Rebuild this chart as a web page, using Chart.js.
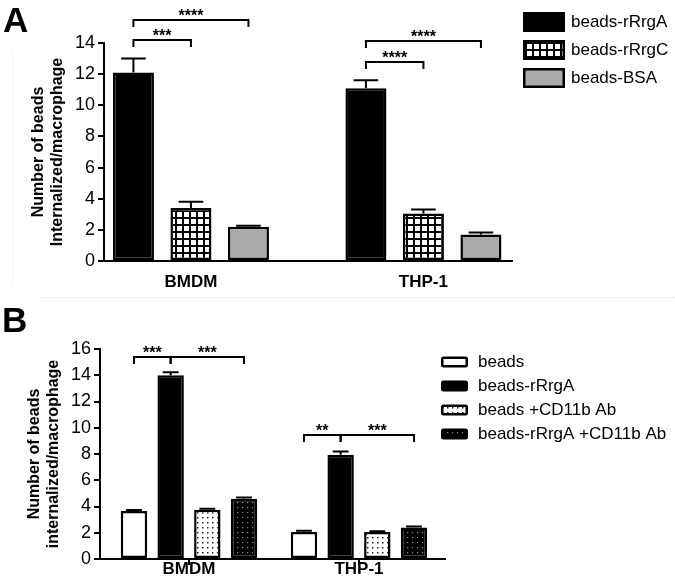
<!DOCTYPE html>
<html><head><meta charset="utf-8">
<script src="https://cdn.jsdelivr.net/npm/chart.js@4.4.1/dist/chart.umd.min.js"></script>
<style>
html,body{margin:0;padding:0;background:#fff;}
body{width:675px;height:587px;position:relative;overflow:hidden;font-family:"Liberation Sans",Arial,sans-serif;}
#wa{position:absolute;left:0;top:0;width:675px;height:296px;}
#wb{position:absolute;left:0;top:300px;width:675px;height:287px;}
.lbl{position:absolute;font-weight:bold;font-size:35px;line-height:35px;color:#000;}
.sep{position:absolute;left:40px;top:297px;width:635px;height:0;border-top:1px dotted #e4e4e4;}
.sepv{position:absolute;left:12px;top:50px;width:0;height:235px;border-left:1px dotted #e8e8e8;}
</style></head><body>
<div class="sep"></div><div class="sepv"></div>
<div id="wa"><canvas id="ca"></canvas></div>
<div id="wb"><canvas id="cb"></canvas></div>
<div class="lbl" style="left:3px;top:2px">A</div>
<div class="lbl" style="left:2px;top:302px">B</div>
<script>
// ---------- Panel A data ----------
const categoriesA = ['BMDM', 'THP-1'];
const seriesNamesA = ['beads-rRrgA', 'beads-rRrgC', 'beads-BSA'];
const rRrgA_A = [12.1, 11.1];
const rRrgA_A_err = [0.9, 0.5];
const rRrgC_A = [3.4, 3.05];
const rRrgC_A_err = [0.4, 0.25];
const BSA_A = [2.2, 1.7];
const BSA_A_err = [0.07, 0.13];
const yTicksA = [0, 2, 4, 6, 8, 10, 12, 14];
const bracketsA = [
  {group: 0, from: 0, to: 1, level: 14.2, label: '***'},
  {group: 0, from: 0, to: 2, level: 15.45, label: '****'},
  {group: 1, from: 0, to: 1, level: 12.8, label: '****'},
  {group: 1, from: 0, to: 2, level: 14.1, label: '****'}
];

// ---------- Panel B data ----------
const categoriesB = ['BMDM', 'THP-1'];
const seriesNamesB = ['beads', 'beads-rRrgA', 'beads +CD11b Ab', 'beads-rRrgA +CD11b Ab'];
const beads_B = [3.65, 2.05];
const beads_B_err = [0.08, 0.1];
const rRrgA_B = [14.0, 7.95];
const rRrgA_B_err = [0.22, 0.25];
const cd11b_B = [3.75, 2.05];
const cd11b_B_err = [0.07, 0.07];
const rRrgAcd11b_B = [4.6, 2.4];
const rRrgAcd11b_B_err = [0.08, 0.08];
const yTicksB = [0, 2, 4, 6, 8, 10, 12, 14, 16];
const bracketsB = [
  {group: 0, from: 0, to: 1, level: 15.4, label: '***'},
  {group: 0, from: 1, to: 3, level: 15.4, label: '***'},
  {group: 1, from: 0, to: 1, level: 9.45, label: '**'},
  {group: 1, from: 1, to: 3, level: 9.45, label: '***'}
];

// ---------- helpers ----------
const FONT = '"Liberation Sans", Arial, sans-serif';
Chart.defaults.font.family = FONT;
Chart.defaults.color = '#000';

function makePattern(bg, size, draw) {
  const c = document.createElement('canvas');
  c.width = size; c.height = size;
  const x = c.getContext('2d');
  x.fillStyle = bg; x.fillRect(0, 0, size, size);
  draw(x);
  return x.createPattern(c, 'repeat');
}
const gridPat = makePattern('#fff', 7, x => { x.fillStyle = '#000'; x.fillRect(0, 0, 7, 2); x.fillRect(0, 0, 2, 7); });
const grayPat = makePattern('#a9a9a9', 4, x => { x.fillStyle = '#b4b4b4'; x.fillRect(0, 0, 1, 1); x.fillRect(2, 2, 1, 1); });
const whiteDots = makePattern('#fff', 5, x => { x.fillStyle = '#222'; x.fillRect(2, 2, 1.5, 1.5); });
const blackDots = makePattern('#000', 5, x => { x.fillStyle = '#8a8a8a'; x.fillRect(2, 2, 1.2, 1.2); });

const toPts = arr => arr.map((v, i) => ({x: i, y: v}));

const errPlugin = {
  id: 'errbars',
  afterDatasetsDraw(chart, args, o) {
    const ctx = chart.ctx, ys = chart.scales.y;
    ctx.save();
    ctx.strokeStyle = '#000'; ctx.lineWidth = 2;
    chart.data.datasets.forEach((ds, i) => {
      chart.getDatasetMeta(i).data.forEach((bar, j) => {
        const v = ds.data[j].y, e = ds.errors[j];
        const yb = ys.getPixelForValue(v), yt = ys.getPixelForValue(v + e);
        const hw = bar.width * o.capRatio / 2;
        ctx.beginPath();
        ctx.moveTo(bar.x, yb); ctx.lineTo(bar.x, yt);
        ctx.moveTo(bar.x - hw, yt); ctx.lineTo(bar.x + hw, yt);
        ctx.stroke();
      });
    });
    ctx.restore();
  }
};

const sigPlugin = {
  id: 'sig',
  afterDraw(chart, args, o) {
    const ctx = chart.ctx, ys = chart.scales.y;
    ctx.save();
    ctx.strokeStyle = '#000'; ctx.lineWidth = 2; ctx.fillStyle = '#000';
    ctx.font = o.font; ctx.textAlign = 'center'; ctx.textBaseline = 'alphabetic';
    o.brackets.forEach(b => {
      const x1 = chart.getDatasetMeta(b.from).data[b.group].x;
      const x2 = chart.getDatasetMeta(b.to).data[b.group].x;
      const y = Math.round(ys.getPixelForValue(b.level));
      ctx.beginPath();
      ctx.moveTo(x1, y + o.tick); ctx.lineTo(x1, y); ctx.lineTo(x2, y); ctx.lineTo(x2, y + o.tick);
      ctx.stroke();
      ctx.fillText(b.label, (x1 + x2) / 2, y + o.textDy);
    });
    ctx.restore();
  }
};

const legendPlugin = {
  id: 'customLegend',
  afterDraw(chart, args, o) {
    const ctx = chart.ctx;
    ctx.save();
    ctx.font = o.font; ctx.textBaseline = 'middle'; ctx.textAlign = 'left';
    chart.data.datasets.forEach((ds, i) => {
      const cy = o.y0 + i * o.dy, x = o.x, y = cy - o.h / 2;
      ctx.beginPath(); ctx.roundRect(x, y, o.w, o.h, o.r);
      ctx.fillStyle = ds.borderColor; ctx.fill();
      ctx.beginPath(); ctx.roundRect(x + o.bw, y + o.bw, o.w - 2 * o.bw, o.h - 2 * o.bw, Math.max(0, o.r - o.bw));
      ctx.fillStyle = ds.backgroundColor; ctx.fill();
      ctx.fillStyle = '#000';
      ctx.fillText(ds.label, o.tx, cy);
    });
    ctx.restore();
  }
};

function makeOptions(cfg) {
  return {
    responsive: true, maintainAspectRatio: false, animation: false, devicePixelRatio: 1,
    layout: {padding: cfg.padding},
    datasets: {bar: {categoryPercentage: cfg.catPct, barPercentage: cfg.barPct, borderColor: '#000', borderWidth: 2.5, borderSkipped: false}},
    plugins: {
      legend: {display: false}, tooltip: {enabled: false},
      errbars: {capRatio: 0.6},
      sig: {brackets: cfg.brackets, font: 'bold 16px ' + FONT, tick: 7, textDy: 1},
      customLegend: cfg.legend
    },
    scales: {
      x: {
        type: 'linear', min: cfg.xmin, max: cfg.xmax, offset: false,
        afterBuildTicks: s => { s.ticks = cfg.categories.map((c, i) => ({value: i})); },
        afterFit: s => { s.height = cfg.xHeight; },
        ticks: {callback: v => cfg.categories[v], font: {size: 17, weight: 'bold'}, padding: cfg.xPad, maxRotation: 0, autoSkip: false},
        grid: {display: true, offset: false, drawOnChartArea: false, drawTicks: cfg.xTicks, tickLength: 6, color: '#000', lineWidth: 2},
        border: {display: true, color: '#000', width: 2}
      },
      y: {
        min: 0, max: cfg.ymax,
        afterBuildTicks: s => { s.ticks = cfg.yTicks.map(v => ({value: v})); },
        afterFit: s => { s.width = cfg.yWidth; },
        ticks: {font: {size: 18}, padding: 3},
        grid: {display: true, drawOnChartArea: false, drawTicks: true, tickLength: 6, color: '#000', lineWidth: 2},
        border: {display: true, color: '#000', width: 2},
        title: {display: true, text: cfg.yTitle, font: {size: 16, weight: 'bold', lineHeight: 1.2}, padding: {top: cfg.titlePad, bottom: 0}}
      }
    }
  };
}

new Chart(document.getElementById('ca'), {
  type: 'bar',
  data: {
    datasets: [
      {label: seriesNamesA[0], data: toPts(rRrgA_A), errors: rRrgA_A_err, backgroundColor: '#000', borderColor: '#000'},
      {label: seriesNamesA[1], data: toPts(rRrgC_A), errors: rRrgC_A_err, backgroundColor: gridPat, borderColor: '#000'},
      {label: seriesNamesA[2], data: toPts(BSA_A), errors: BSA_A_err, backgroundColor: grayPat, borderColor: '#000'}
    ]
  },
  options: makeOptions({
    padding: {left: 0, right: 163, top: 43, bottom: 0},
    catPct: 0.742, barPct: 0.713, brackets: bracketsA,
    legend: {font: '17px ' + FONT, x: 523, w: 42, h: 20, r: 0, bw: 2.5, y0: 22, dy: 28, tx: 571},
    xmin: -0.374, xmax: 1.381, categories: categoriesA, xHeight: 35, xPad: 10.8, xTicks: false,
    ymax: 14, yTicks: yTicksA, yWidth: 104,
    yTitle: ['Number of beads', 'Internalized/macrophage'], titlePad: 29
  }),
  plugins: [errPlugin, sigPlugin, legendPlugin]
});

new Chart(document.getElementById('cb'), {
  type: 'bar',
  data: {
    datasets: [
      {label: seriesNamesB[0], data: toPts(beads_B), errors: beads_B_err, backgroundColor: '#fff', borderColor: '#000'},
      {label: seriesNamesB[1], data: toPts(rRrgA_B), errors: rRrgA_B_err, backgroundColor: '#000', borderColor: '#000'},
      {label: seriesNamesB[2], data: toPts(cd11b_B), errors: cd11b_B_err, backgroundColor: whiteDots, borderColor: '#000'},
      {label: seriesNamesB[3], data: toPts(rRrgAcd11b_B), errors: rRrgAcd11b_B_err, backgroundColor: blackDots, borderColor: '#000'}
    ]
  },
  options: makeOptions({
    padding: {left: 0, right: 230, top: 49, bottom: 0},
    catPct: 0.863, barPct: 0.72, brackets: bracketsB,
    legend: {font: '17px ' + FONT, x: 441, w: 27, h: 11, r: 2.5, bw: 2.5, y0: 62, dy: 24, tx: 478},
    xmin: -0.5235, xmax: 1.506, categories: categoriesB, xHeight: 28, xPad: -6, xTicks: true,
    ymax: 16, yTicks: yTicksB, yWidth: 100,
    yTitle: ['Number of beads', 'internalized/macrophage'], titlePad: 25
  }),
  plugins: [errPlugin, sigPlugin, legendPlugin]
});
</script>
</body></html>
